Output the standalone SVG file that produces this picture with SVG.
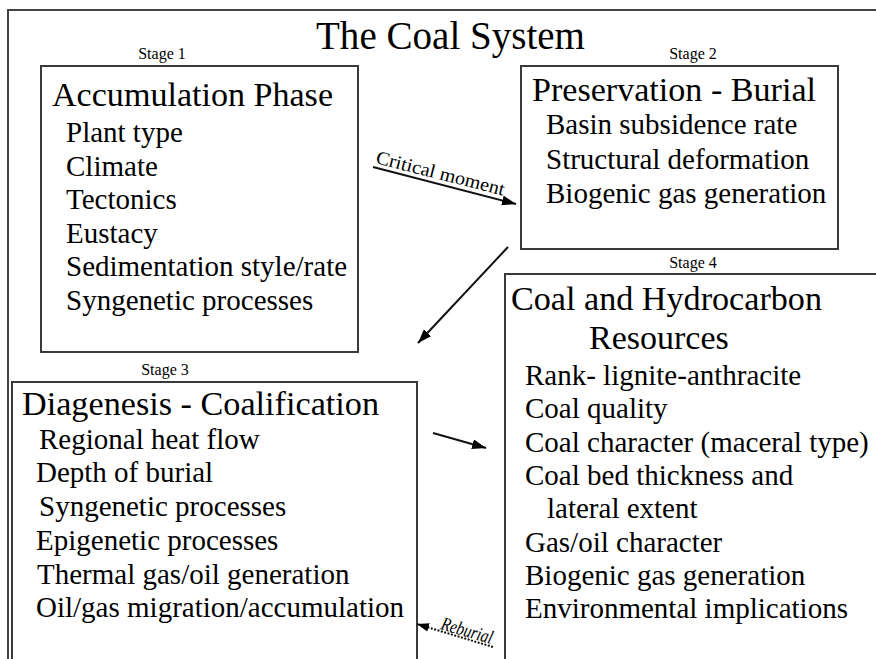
<svg xmlns="http://www.w3.org/2000/svg" width="876" height="659" viewBox="0 0 876 659">
<style>
  text { font-family: 'Liberation Serif', 'Tinos', 'Times New Roman', 'DejaVu Serif', serif; fill: #000; }
  .title { font-size: 39px; }
  .stage { font-size: 16px; text-anchor: middle; }
  .head { font-size: 34px; }
  .item { font-size: 29px; }
  .box { fill: #fff; stroke: #3a3a3a; stroke-width: 2; }
  .frame { fill: none; stroke: #444; stroke-width: 2; }
  .conn { stroke: #111; stroke-width: 2; fill: none; }
  .dot { stroke: #111; stroke-width: 2; fill: none; stroke-dasharray: 2 1.5; }
  .lbl { font-size: 19px; }
</style>
<defs>
  <marker id="ah" viewBox="0 0 14 10" refX="14" refY="5" markerWidth="14" markerHeight="10" markerUnits="userSpaceOnUse" orient="auto">
    <path d="M0,0 L14,5 L0,10 z" fill="#000"/>
  </marker>
  <marker id="ahs" viewBox="0 0 14 10" refX="14" refY="5" markerWidth="12" markerHeight="9" markerUnits="userSpaceOnUse" orient="auto">
    <path d="M0,0 L14,5 L0,10 z" fill="#000"/>
  </marker>
</defs>
<rect width="876" height="659" fill="#fff"/>
<path class="frame" d="M8,670 L8,10 L880,10"/>
<g font-family="Liberation Serif, DejaVu Serif, serif">
<text class="title" x="316" y="49" textLength="269" lengthAdjust="spacingAndGlyphs">The Coal System</text>

<g id="stage1">
  <text class="stage" x="162" y="59">Stage 1</text>
  <rect class="box" x="41" y="66" width="317" height="286"/>
  <text class="head" x="52" y="106" textLength="281" lengthAdjust="spacingAndGlyphs">Accumulation Phase</text>
  <text class="item" x="66" y="142">Plant type</text>
  <text class="item" x="66" y="175.5">Climate</text>
  <text class="item" x="66" y="209">Tectonics</text>
  <text class="item" x="66" y="242.5">Eustacy</text>
  <text class="item" x="66" y="276">Sedimentation style/rate</text>
  <text class="item" x="66" y="309.5">Syngenetic processes</text>
</g>

<g id="stage2">
  <text class="stage" x="693" y="59">Stage 2</text>
  <rect class="box" x="521" y="66" width="317" height="183"/>
  <text class="head" x="532" y="101" textLength="284" lengthAdjust="spacingAndGlyphs">Preservation - Burial</text>
  <text class="item" x="546" y="134">Basin subsidence rate</text>
  <text class="item" x="546" y="169">Structural deformation</text>
  <text class="item" x="546" y="203">Biogenic gas generation</text>
</g>

<g id="stage3">
  <text class="stage" x="165" y="375">Stage 3</text>
  <rect class="box" x="12" y="382" width="405" height="300"/>
  <text class="head" x="22" y="415" textLength="357" lengthAdjust="spacingAndGlyphs">Diagenesis - Coalification</text>
  <text class="item" x="39" y="449">Regional heat flow</text>
  <text class="item" x="36" y="482">Depth of burial</text>
  <text class="item" x="39" y="516">Syngenetic processes</text>
  <text class="item" x="36" y="550">Epigenetic processes</text>
  <text class="item" x="37" y="584">Thermal gas/oil generation</text>
  <text class="item" x="36" y="617">Oil/gas migration/accumulation</text>
</g>

<g id="stage4">
  <text class="stage" x="693" y="268">Stage 4</text>
  <rect class="box" x="505" y="274" width="400" height="420"/>
  <text class="head" x="511" y="310" textLength="311" lengthAdjust="spacingAndGlyphs">Coal and Hydrocarbon</text>
  <text class="head" x="589" y="349">Resources</text>
  <text class="item" x="525" y="385">Rank- lignite-anthracite</text>
  <text class="item" x="525" y="418">Coal quality</text>
  <text class="item" x="525" y="452">Coal character (maceral type)</text>
  <text class="item" x="525" y="485">Coal bed thickness and</text>
  <text class="item" x="547" y="518">lateral extent</text>
  <text class="item" x="525" y="552">Gas/oil character</text>
  <text class="item" x="525" y="585">Biogenic gas generation</text>
  <text class="item" x="525" y="618">Environmental implications</text>
</g>

<g id="connectors">
  <line class="conn" x1="373" y1="167" x2="516" y2="204" marker-end="url(#ah)"/>
  <text class="lbl" x="375" y="163" transform="rotate(14.3 375 163)" textLength="132" lengthAdjust="spacingAndGlyphs">Critical moment</text>
  <line class="conn" x1="508" y1="247" x2="418" y2="343" marker-end="url(#ah)"/>
  <line class="conn" x1="433" y1="433" x2="486" y2="448" marker-end="url(#ah)"/>
  <line class="dot" x1="493" y1="647" x2="417" y2="624" marker-end="url(#ahs)"/>
  <text class="lbl" x="440" y="629" font-size="14" font-style="italic" transform="rotate(16.5 440 629)" textLength="53" lengthAdjust="spacingAndGlyphs">Reburial</text>
</g>
</g>
</svg>
